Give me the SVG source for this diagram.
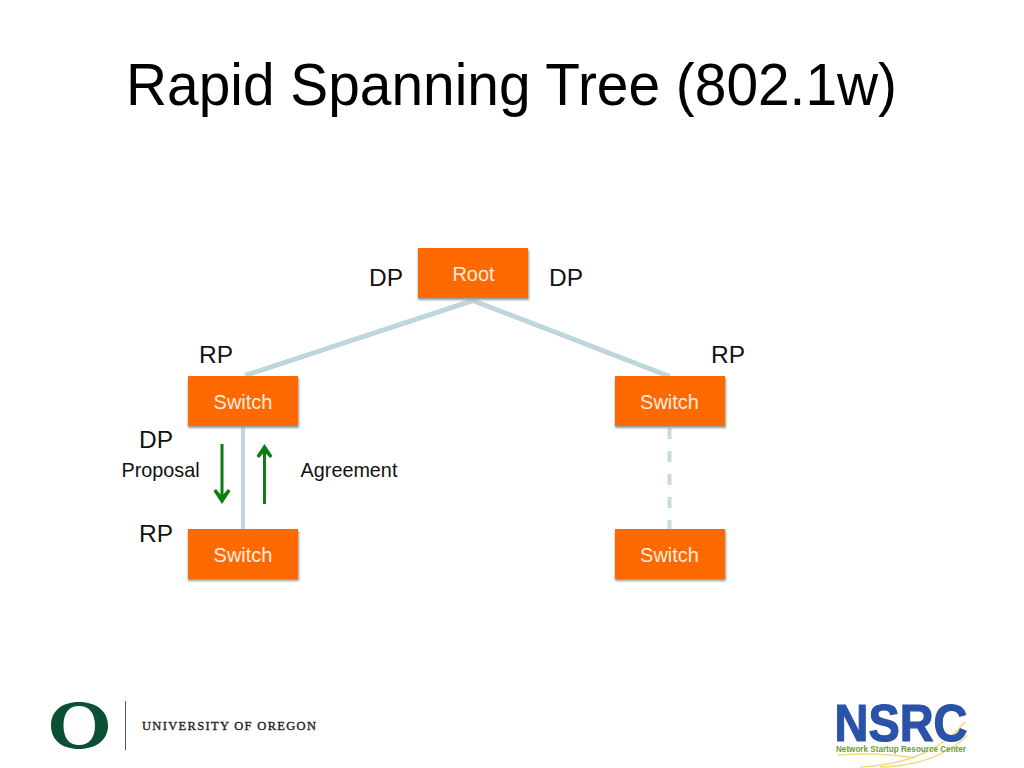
<svg xmlns="http://www.w3.org/2000/svg" width="1024" height="768" viewBox="0 0 1024 768">
<style>
text{font-family:"Liberation Sans",Arial,sans-serif;fill:#000}
.sh{fill:#8f9c9c;filter:url(#soft)}
.box{fill:#ff6a00}
.nl{fill:#fff;font-size:20px;text-anchor:middle;fill-opacity:.9}
.pl{font-size:24.500px;text-anchor:middle;fill:#111}
.sl{font-size:19.800px;text-anchor:middle;fill:#111}
.link{stroke:#bcd8dc;stroke-width:4;fill:none}
.under{stroke:#c4cccc;stroke-width:2;fill:none}
.dash{stroke-dasharray:11 12;stroke:#c6dde0}
.ar{stroke:#0b7d12;stroke-width:3;fill:none}
.head{fill:#0b7d12}
</style>
<defs><filter id="soft" x="-10%" y="-20%" width="120%" height="140%"><feGaussianBlur stdDeviation="1"/></filter></defs>
<rect width="1024" height="768" fill="#fff"/>
<text id="title" x="511.500" y="105" font-size="60" text-anchor="middle" style="fill:#000" textLength="771" lengthAdjust="spacingAndGlyphs">Rapid Spanning Tree (802.1w)</text>
<g id="connectors">
<path class="under" d="M473 302L245 377"/>
<path class="under" d="M473 302L670 378"/>
<path class="link" d="M473 300L245 375"/>
<path class="link" d="M473 300L670 376"/>
<path class="link" d="M243 427V530"/>
<path class="link dash" d="M669.500 428V530"/>
<path class="ar" d="M222 444V497"/>
<path class="head" d="M213.500 491L216 489L222 496L228 489L230.500 491L222 504Z"/>
<path class="ar" d="M264.500 504V452"/>
<path class="head" d="M256.500 456L264.500 444L272.500 456L270 458L264.500 452L259 458Z"/>
</g>
<g id="root"><rect class="sh" x="418" y="250" width="111" height="50"/><rect class="box" x="418" y="248" width="110" height="50"/><text class="nl" x="473.500" y="280.500">Root</text></g>
<g id="switch1"><rect class="sh" x="188" y="378" width="111" height="50"/><rect class="box" x="188" y="376" width="110" height="50"/><text class="nl" x="243" y="408.500">Switch</text></g>
<g id="switch2"><rect class="sh" x="615" y="378" width="111" height="50"/><rect class="box" x="615" y="376" width="110" height="50"/><text class="nl" x="669.500" y="408.500">Switch</text></g>
<g id="switch3"><rect class="sh" x="188" y="531" width="111" height="50"/><rect class="box" x="188" y="529" width="110" height="50"/><text class="nl" x="243" y="562">Switch</text></g>
<g id="switch4"><rect class="sh" x="615" y="531" width="111" height="50"/><rect class="box" x="615" y="529" width="110" height="50"/><text class="nl" x="669.500" y="562">Switch</text></g>
<g id="labels">
<text class="pl" x="386" y="285.500">DP</text>
<text class="pl" x="566" y="285.500">DP</text>
<text class="pl" x="216" y="362.500">RP</text>
<text class="pl" x="728" y="362.500">RP</text>
<text class="pl" x="156" y="448">DP</text>
<text class="pl" x="156" y="541.500">RP</text>
<text class="sl" x="160.500" y="477">Proposal</text>
<text class="sl" x="349" y="477">Agreement</text>
</g>
<g id="oregon-logo">
<path fill="#0b4f34" fill-rule="evenodd" d="M79 702C96 702 108 711 108 725.500C108 740 96 749 79 749C62 749 51 740 51 725.500C51 711 62 702 79 702ZM79 706C69 706 63.500 713 63.500 725.500C63.500 738 69 745 79 745C89 745 95 738 95 725.500C95 713 89 706 79 706Z"/>
<rect x="125" y="701" width="1" height="49" fill="#555"/>
<text x="142" y="730" font-size="12.500" textLength="174" lengthAdjust="spacing" stroke="#222" stroke-width=".35" style="font-family:'Liberation Serif',serif;fill:#222">UNIVERSITY OF OREGON</text>
</g>
<g id="nsrc-logo">
<path d="M838 755Q880 752 915 758M860 767Q930 764 965 722M880 767Q935 766 968 735" fill="none" stroke="#f0dc80" stroke-width="1.500"/>
<text x="834.500" y="741" font-size="52" font-weight="700" textLength="133" lengthAdjust="spacingAndGlyphs" stroke="#2a52a8" stroke-width="1.200" style="fill:#2a52a8">NSRC</text>
<text x="836" y="752" font-size="8.300" font-weight="700" textLength="130" lengthAdjust="spacingAndGlyphs" style="fill:#6f9a3c">Network Startup Resource Center</text>
</g>
</svg>
